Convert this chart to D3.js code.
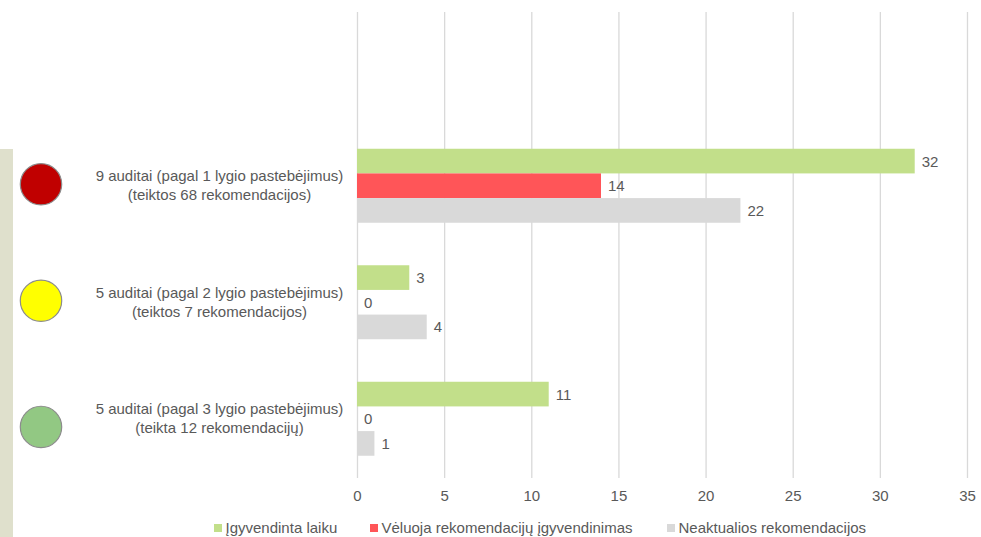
<!DOCTYPE html>
<html><head><meta charset="utf-8">
<script src="https://cdn.jsdelivr.net/npm/d3@7"></script>
<style>html,body{margin:0;padding:0;background:#fff}svg{display:block}text{font-family:"Liberation Sans",Arial,sans-serif;fill:#595959}</style>
</head><body><svg id="c" width="981" height="537"></svg>
<script>
const categories = ["", "g1", "g2", "g3"];
const labelLines = [
  ["9 auditai (pagal 1 lygio pastebėjimus)", "(teiktos 68 rekomendacijos)"],
  ["5 auditai (pagal 2 lygio pastebėjimus)", "(teiktos 7 rekomendacijos)"],
  ["5 auditai (pagal 3 lygio pastebėjimus)", "(teikta 12 rekomendacijų)"]
];
const circleColors = ["#c00000", "#ffff00", "#92c883"];
const seriesNames = ["Įgyvendinta laiku", "Vėluoja rekomendacijų įgyvendinimas", "Neaktualios rekomendacijos"];
const seriesColors = ["#c2df8a", "#ff5558", "#d9d9d9"];
const onTime = [32, 3, 11];
const late = [14, 0, 0];
const notRelevant = [22, 4, 1];
const tickValues = [0, 5, 10, 15, 20, 25, 30, 35];

const svg = d3.select("#c");
const x = d3.scaleLinear().domain([0, 35]).range([357, 967]);
const y = d3.scaleBand().domain(categories).range([12, 478]);
const inner = d3.scaleBand().domain([0, 1, 2]).range([-37, 37]);
const groups = categories.slice(1);

svg.append("rect").attr("x", 0).attr("y", 149).attr("width", 13).attr("height", 388).attr("fill", "#dfe0cc");

const axis = d3.axisBottom(x).tickValues(tickValues).tickSize(466).tickPadding(12);
const ga = svg.append("g").attr("transform", "translate(0,12)").call(axis);
ga.select(".domain").remove();
ga.selectAll("line").attr("stroke", "#d9d9d9").attr("stroke-width", 1.3);
ga.selectAll("text").attr("font-size", 15).attr("fill", "#595959")
  .style("font-family", '"Liberation Sans",Arial,sans-serif');

[onTime, late, notRelevant].forEach((vals, s) => {
  const cy = d => y(d) + y.bandwidth() / 2 - 1 + inner(s);
  svg.append("g").selectAll("rect").data(groups).join("rect")
    .attr("x", x(0)).attr("y", d => cy(d))
    .attr("width", (d, i) => x(vals[i]) - x(0)).attr("height", inner.bandwidth())
    .attr("fill", seriesColors[s]);
  svg.append("g").selectAll("text").data(groups).join("text")
    .attr("x", (d, i) => x(vals[i]) + 7).attr("y", d => cy(d) + inner.bandwidth() / 2 + 5.5)
    .attr("font-size", 15).text((d, i) => vals[i]);
});

groups.forEach((g, i) => {
  const cy = y(g) + y.bandwidth() / 2 - 1.5;
  svg.append("circle").attr("cx", 41).attr("cy", cy + [-1, -1, 8.7][i])
    .attr("r", 20.7).attr("fill", circleColors[i]).attr("stroke", "#8c8c8c").attr("stroke-width", 1.2);
  labelLines[i].forEach((t, j) => svg.append("text")
    .attr("x", 219.5).attr("y", cy - 4 + j * 19).attr("text-anchor", "middle")
    .attr("font-size", 15).text(t));
});

const legendX = [214, 370, 667];
seriesNames.forEach((n, i) => {
  svg.append("rect").attr("x", legendX[i]).attr("y", 524).attr("width", 8).attr("height", 8).attr("fill", seriesColors[i]);
  svg.append("text").attr("x", legendX[i] + 11.5).attr("y", 533).attr("font-size", 15).text(n);
});
</script></body></html>
